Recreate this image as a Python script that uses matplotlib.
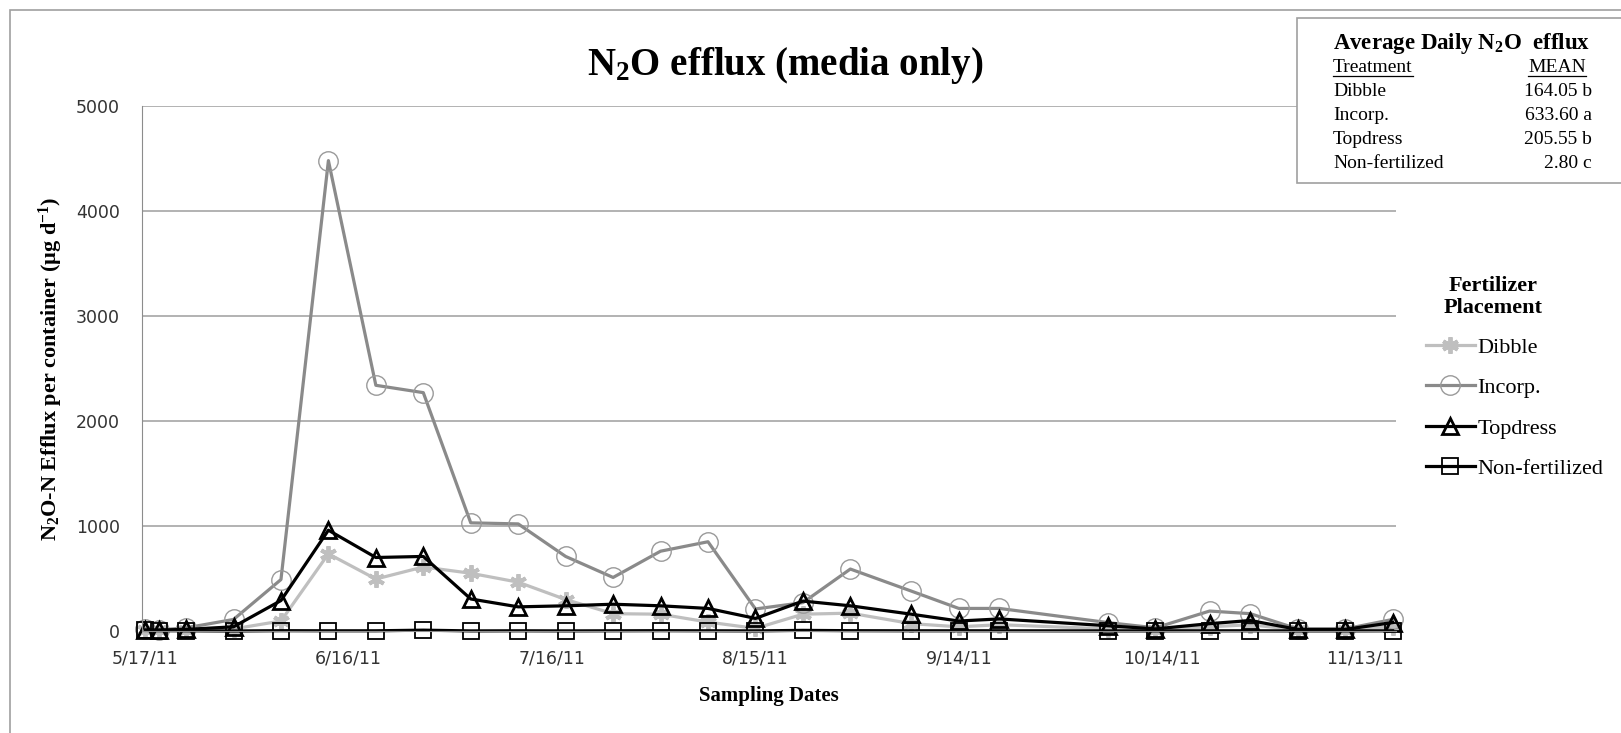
import numpy as np
import pandas as pd
import matplotlib
matplotlib.use('Agg')
import matplotlib.pyplot as plt
import matplotlib.dates as mdates
from matplotlib.lines import Line2D
from matplotlib.patches import Rectangle
from matplotlib import rcParams

rcParams['mathtext.fontset'] = 'custom'
rcParams['mathtext.rm'] = 'Liberation Serif'
rcParams['mathtext.bf'] = 'Liberation Serif:bold'
rcParams['mathtext.it'] = 'Liberation Serif:italic'

# sampling data
dates = ['5/17/11', '5/19/11', '5/23/11', '5/30/11', '6/6/11', '6/13/11', '6/20/11',
         '6/27/11', '7/4/11', '7/11/11', '7/18/11', '7/25/11', '8/1/11', '8/8/11',
         '8/15/11', '8/22/11', '8/29/11', '9/7/11', '9/14/11', '9/20/11', '10/6/11',
         '10/13/11', '10/21/11', '10/27/11', '11/3/11', '11/10/11', '11/17/11']
dibble = [5, 5, 10, 20, 95, 735, 495, 610, 550, 465, 300, 165, 160, 85,
          25, 160, 170, 70, 40, 60, 20, 10, 40, 60, 10, 10, 40]
incorp = [20, 10, 30, 110, 490, 4480, 2340, 2270, 1030, 1020, 710, 510, 760, 850,
          210, 270, 590, 380, 215, 215, 80, 30, 190, 165, 20, 20, 110]
topdress = [10, 10, 15, 40, 290, 960, 700, 710, 305, 230, 240, 255, 240, 215,
            120, 285, 240, 160, 95, 115, 50, 20, 70, 100, 15, 15, 80]
nonfert = [5, 3, 2, 0, 3, 2, 2, 8, 1, 2, 1, 2, 3, 2,
           1, 6, 3, 2, 2, 2, 1, 1, 2, 2, 1, 1, 2]

tick_dates = ['5/17/11', '6/16/11', '7/16/11', '8/15/11', '9/14/11', '10/14/11', '11/13/11']

table_names = ['Dibble', 'Incorp.', 'Topdress', 'Non-fertilized']
table_means = [164.05, 633.60, 205.55, 2.80]
table_letters = ['b', 'a', 'b', 'c']

x = pd.to_datetime(dates, format='%m/%d/%y')
xt = pd.to_datetime(tick_dates, format='%m/%d/%y')

W, H = 1621, 733
fig = plt.figure(figsize=(W / 100, H / 100), dpi=100)
ax = fig.add_axes([142 / W, 1 - 631 / H, (1396 - 142) / W, (631 - 106) / H])

serif = 'Liberation Serif'

ax.plot(x, dibble, color='#bfbfbf', lw=2.3, marker=(6, 2, 0), ms=12, mew=2.8,
        label='Dibble', clip_on=False)
ax.plot(x, incorp, color='#8a8a8a', lw=2.3, marker='o', ms=14, mfc='none',
        mec='#9a9a9a', mew=1.0, label='Incorp.', clip_on=False)
ax.plot(x, topdress, color='black', lw=2.3, marker='^', ms=11, mfc='none',
        mec='black', mew=2.0, label='Topdress', clip_on=False)
ax.plot(x, nonfert, color='black', lw=2.3, marker='s', ms=12, mfc='none',
        mec='black', mew=1.3, label='Non-fertilized', clip_on=False)

ax.set_ylim(0, 5000)
ax.set_yticks(np.arange(0, 5001, 1000))
ax.set_xlim(x[0] - pd.Timedelta(hours=12), x[-1] + pd.Timedelta(hours=12))
ax.set_xticks(xt)
ax.xaxis.set_major_formatter(plt.FuncFormatter(
    lambda v, p: '{d.month}/{d.day}/{y}'.format(d=mdates.num2date(v),
                                                 y=mdates.num2date(v).strftime('%y'))))
ax.grid(axis='y', color='#a6a6a6', lw=1.2)
ax.set_axisbelow(True)
for s in ['top', 'right']:
    ax.spines[s].set_visible(False)
ax.spines['left'].set_color('#8c8c8c')
ax.spines['bottom'].set_color('#8c8c8c')
ax.tick_params(length=0, labelsize=12.5, labelcolor='#333333')
ax.tick_params(axis='x', pad=13)
ax.tick_params(axis='y', pad=16)

ax.set_xlabel('Sampling Dates', family=serif, fontweight='bold', fontsize=15, labelpad=14)
ax.set_ylabel('N$_\\mathbf{2}$O-N Efflux per container (\u00b5g d$^{\\mathbf{-1}}$)',
              family=serif, fontweight='bold', fontsize=16, labelpad=8)

fig.text(785 / W, 1 - 66 / H, 'N$_\\mathbf{2}$O efflux (media only)', family=serif,
         fontweight='bold', fontsize=28, ha='center', va='center')

# legend
fig.text(1493 / W, 1 - 297 / H, 'Fertilizer\nPlacement', family=serif, fontweight='bold',
         fontsize=16, ha='center', va='center', linespacing=1.1)
ax.legend(loc='upper left', bbox_to_anchor=(1426 / W, 1 - 337 / H),
          bbox_transform=fig.transFigure, frameon=False, borderpad=0, borderaxespad=0,
          handlelength=2.2, handletextpad=0.1, labelspacing=0.9, numpoints=1,
          prop={'family': serif, 'size': 16})

# chart border and stats box
fig.add_artist(Rectangle((10 / W, -0.1), 1.2, 1 - 10 / H + 0.1, transform=fig.transFigure,
                         fill=False, ec='#a0a0a0', lw=1.2))
fig.add_artist(Rectangle((1297 / W, 1 - 183 / H), 0.3, (183 - 18) / H,
                         transform=fig.transFigure, fc='white', ec='#a0a0a0', lw=1.2))

fig.text(1333 / W, 1 - 43 / H, 'Average Daily N$_\\mathbf{2}$O  efflux', family=serif,
         fontweight='bold', fontsize=16.5, ha='left', va='center')
t1 = fig.text(1333 / W, 1 - 68 / H, 'Treatment', family=serif, fontsize=14,
              ha='left', va='center')
t2 = fig.text(1586 / W, 1 - 68 / H, 'MEAN', family=serif, fontsize=14,
              ha='right', va='center')
for i, (n, m, l) in enumerate(zip(table_names, table_means, table_letters)):
    yy = 1 - (92 + 24 * i) / H
    fig.text(1333 / W, yy, n, family=serif, fontsize=14, ha='left', va='center')
    fig.text(1592 / W, yy, '{:.2f} {}'.format(m, l), family=serif, fontsize=14,
             ha='right', va='center')

r = fig.canvas.get_renderer()
for t in (t1, t2):
    bb = t.get_window_extent(r).transformed(fig.transFigure.inverted())
    fig.add_artist(Line2D([bb.x0, bb.x1], [bb.y0 + 1 / H, bb.y0 + 1 / H],
                          transform=fig.transFigure, color='black', lw=0.9))

fig.savefig('out.png', dpi=100)
